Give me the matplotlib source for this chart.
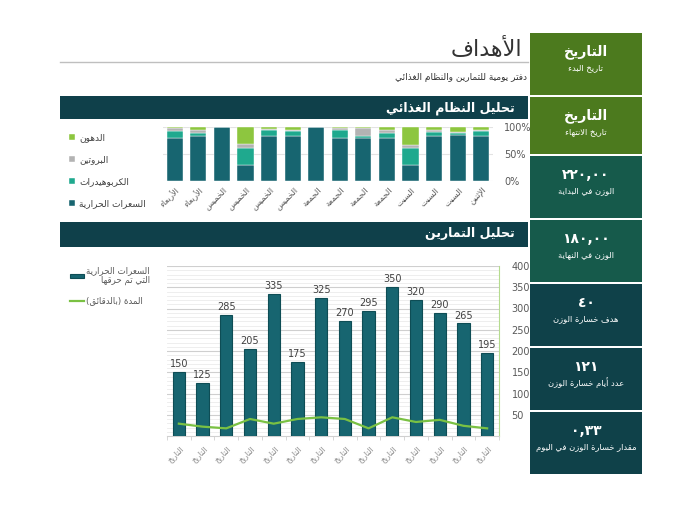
import numpy as np
import matplotlib
matplotlib.use("Agg")
import matplotlib.pyplot as plt
from matplotlib.patches import Rectangle
from matplotlib.ticker import MultipleLocator

plt.rcParams['font.family'] = ['DejaVu Sans']

# ---- data ----
diet_days = ['الأربعاء', 'الأربعاء', 'الخميس', 'الخميس', 'الخميس', 'الخميس',
             'الجمعة', 'الجمعة', 'الجمعة', 'الجمعة', 'السبت', 'السبت', 'السبت', 'الإثنين']
calories_pct = [80, 83, 100, 30, 84, 83, 100, 80, 80, 79, 30, 83, 86, 83]
carbs_pct = [13, 6, 0, 31, 10, 9, 0, 15, 4, 10, 31, 7, 2, 10]
protein_pct = [5, 5, 0, 7, 2, 3, 0, 4, 15, 6, 6, 5, 3, 2]
fat_pct = [2, 6, 0, 32, 4, 5, 0, 1, 1, 5, 33, 5, 9, 5]
diet_series = ['السعرات الحرارية', 'الكربوهيدرات', 'البروتين', 'الدهون']

ex_dates = ['التاريخ'] * 14
burned = [150, 125, 285, 205, 335, 175, 325, 270, 295, 350, 320, 290, 265, 195]
minutes = [29, 22, 18, 40, 29, 40, 44, 40, 18, 44, 33, 38, 24, 18]
ex_series = ['السعرات الحرارية\nالتي تم حرقها', 'المدة (بالدقائق)']

card_values = ['التاريخ', 'التاريخ', '٢٢٠,٠٠', '١٨٠,٠٠', '٤٠', '١٢١', '٠,٣٣']
card_labels = ['تاريخ البدء', 'تاريخ الانتهاء', 'الوزن في البداية', 'الوزن في النهاية',
               'هدف خسارة الوزن', 'عدد أيام خسارة الوزن', 'مقدار خسارة الوزن في اليوم']

title = 'الأهداف'
subtitle = 'دفتر يومية للتمارين والنظام الغذائي'
band1 = 'تحليل النظام الغذائي'
band2 = 'تحليل التمارين'

# ---- simple arabic shaping (no bidi lib available) ----
_tbl = [('ء', 0xFE80, 1), ('آ', 0xFE81, 2), ('أ', 0xFE83, 2), ('ؤ', 0xFE85, 2),
        ('إ', 0xFE87, 2), ('ئ', 0xFE89, 4), ('ا', 0xFE8D, 2), ('ب', 0xFE8F, 4),
        ('ة', 0xFE93, 2), ('ت', 0xFE95, 4), ('ث', 0xFE99, 4), ('ج', 0xFE9D, 4),
        ('ح', 0xFEA1, 4), ('خ', 0xFEA5, 4), ('د', 0xFEA9, 2), ('ذ', 0xFEAB, 2),
        ('ر', 0xFEAD, 2), ('ز', 0xFEAF, 2), ('س', 0xFEB1, 4), ('ش', 0xFEB5, 4),
        ('ص', 0xFEB9, 4), ('ض', 0xFEBD, 4), ('ط', 0xFEC1, 4), ('ظ', 0xFEC5, 4),
        ('ع', 0xFEC9, 4), ('غ', 0xFECD, 4), ('ف', 0xFED1, 4), ('ق', 0xFED5, 4),
        ('ك', 0xFED9, 4), ('ل', 0xFEDD, 4), ('م', 0xFEE1, 4), ('ن', 0xFEE5, 4),
        ('ه', 0xFEE9, 4), ('و', 0xFEED, 2), ('ى', 0xFEEF, 2), ('ي', 0xFEF1, 4)]
JOIN = {c: (b, n) for c, b, n in _tbl}
LAM_ALEF = {'آ': 0xFEF5, 'أ': 0xFEF7, 'إ': 0xFEF9, 'ا': 0xFEFB}


def ar_line(text):
    if not any(c in JOIN for c in text):
        return text  # numbers stay left-to-right
    toks = []
    i = 0
    while i < len(text):
        c = text[i]
        if c == 'ل' and i + 1 < len(text) and text[i + 1] in LAM_ALEF:
            toks.append((LAM_ALEF[text[i + 1]], 2))
            i += 2
            continue
        toks.append(JOIN.get(c, c))
        i += 1
    out = []
    for k, t in enumerate(toks):
        if isinstance(t, str):
            out.append(t)
            continue
        base, n = t
        prev = toks[k - 1] if k > 0 else None
        nxt = toks[k + 1] if k + 1 < len(toks) else None
        jp = isinstance(prev, tuple) and prev[1] == 4
        jn = n == 4 and isinstance(nxt, tuple)
        if n == 1:
            g = base
        elif jp and jn:
            g = base + 3
        elif jp:
            g = base + 1
        elif jn:
            g = base + 2
        else:
            g = base
        out.append(chr(g))
    mirror = {'(': ')', ')': '('}
    return ''.join(mirror.get(c, c) for c in reversed(out))


def ar(text):
    return '\n'.join(ar_line(s) for s in text.split('\n'))


# ---- layout in pixels ----
W, H = 675, 520
fig = plt.figure(figsize=(W / 100, H / 100), dpi=100)
fig.patch.set_facecolor('white')


def box(x0, y0, x1, y1):
    return [x0 / W, 1 - y1 / H, (x1 - x0) / W, (y1 - y0) / H]


def rect(x0, y0, x1, y1, color):
    fig.add_artist(Rectangle((x0 / W, 1 - y1 / H), (x1 - x0) / W, (y1 - y0) / H,
                             transform=fig.transFigure, facecolor=color,
                             edgecolor='none', zorder=0))


def ftext(x, y, s, **kw):
    fig.text(x / W, 1 - y / H, s, **kw)


DARK = '#0f404a'
BAR = '#176570'
CARB = '#1fa98e'
PROT = '#b3b3b3'
FAT = '#8dc63f'

# header
ftext(522, 49, ar(title), fontsize=16, color='#333333', ha='right', va='center')
fig.add_artist(plt.Line2D([60 / W, 528 / W], [1 - 62 / H, 1 - 62 / H],
                          transform=fig.transFigure, color='#bfbfbf', lw=1))
ftext(527, 78, ar(subtitle), fontsize=6.5, color='#333333', ha='right', va='center')

rect(60, 96, 528, 119, DARK)
ftext(515, 108, ar(band1), fontsize=9, color='white', ha='right', va='center',
      fontweight='bold')
rect(60, 222, 528, 247, DARK)
ftext(515, 234, ar(band2), fontsize=9, color='white', ha='right', va='center',
      fontweight='bold')

# ---- diet stacked chart ----
ax1 = fig.add_axes(box(163, 127, 493, 181))
x = np.arange(len(diet_days))
bottom = np.zeros(len(x))
handles = []
for vals, col, name in zip([calories_pct, carbs_pct, protein_pct, fat_pct],
                           [BAR, CARB, PROT, FAT], diet_series):
    v = np.array(vals, dtype=float)
    b = ax1.bar(x, v, 0.68, bottom=bottom, color=col, edgecolor='white',
                linewidth=0.3, label=ar(name), zorder=3)
    handles.append(b)
    bottom += v
ax1.set_xlim(-0.5, len(x) - 0.5)
ax1.set_ylim(0, 100)
ax1.set_yticks([0, 50, 100])
ax1.set_yticklabels(['0%', '50%', '100%'])
ax1.yaxis.tick_right()
ax1.tick_params(axis='y', length=0, pad=8, labelsize=7, labelcolor='#595959')
ax1.set_xticks(x)
ax1.set_xticklabels([ar(d) for d in diet_days], rotation=45, ha='right',
                    rotation_mode='anchor', fontsize=6, color='#595959')
ax1.tick_params(axis='x', length=0, pad=3)
ax1.grid(axis='y', color='#e3e3e3', lw=0.8, zorder=0)
for s in ax1.spines.values():
    s.set_visible(False)

fig.legend(handles[::-1], [h.get_label() for h in handles[::-1]],
           loc='upper left', bbox_to_anchor=(61 / W, 1 - 125 / H),
           frameon=False, fontsize=6.5, handlelength=0.7, handleheight=0.7,
           handletextpad=0.4, labelspacing=1.45, labelcolor='#404040')

# ---- exercise chart ----
ax2 = fig.add_axes(box(167, 266, 499, 436))
xe = np.arange(len(ex_dates))
bars = ax2.bar(xe, burned, 0.52, color=BAR, edgecolor='#0e4d55', linewidth=0.8,
               zorder=3, label=ar(ex_series[0]))
ln, = ax2.plot(xe, minutes, color='#7ac143', lw=1.6, zorder=4, label=ar(ex_series[1]))
ax2.bar_label(bars, padding=2, fontsize=7, color='#404040')
ax2.set_xlim(-0.5, len(xe) - 0.5)
ax2.set_ylim(0, 400)
ax2.yaxis.tick_right()
ax2.set_yticks(np.arange(50, 401, 50))
ax2.yaxis.set_minor_locator(MultipleLocator(10))
ax2.tick_params(axis='y', which='both', length=0, pad=9, labelsize=7,
                labelcolor='#595959')
ax2.grid(axis='y', which='major', color='#cfcfcf', lw=0.8, zorder=0)
ax2.grid(axis='y', which='minor', color='#ebebeb', lw=0.6, zorder=0)
ax2.set_xticks(xe)
ax2.set_xticklabels([ar(d) for d in ex_dates], rotation=45, ha='right',
                    rotation_mode='anchor', fontsize=5.5, color='#8c8c8c')
ax2.set_xticks(np.arange(-0.5, len(xe), 1), minor=True)
ax2.tick_params(axis='x', which='major', length=0, pad=6)
ax2.tick_params(axis='x', which='minor', length=3, color='#d0d0d0')
for s in ['top', 'left']:
    ax2.spines[s].set_visible(False)
ax2.spines['right'].set_color('#b5db8e')
ax2.spines['bottom'].set_color('#d0d0d0')

leg = fig.legend([bars, ln], [bars.get_label(), ln.get_label()],
                 loc='upper left', bbox_to_anchor=(62 / W, 1 - 258 / H),
                 frameon=False, fontsize=6.2, handlelength=1.6, handleheight=0.3,
                 handletextpad=0.3, labelspacing=1.3, labelcolor='#595959')
for t in leg.get_texts():
    t.set_multialignment('right')

# ---- right side cards ----
card_rows = [(33, 95), (97, 154), (156, 218), (220, 282), (284, 346), (348, 410), (412, 474)]
card_cols = ['#4c7a1e', '#4c7a1e', '#165a4b', '#165a4b', '#0f4149', '#0f4149', '#0f4149']
for (y0, y1), col, val, lab in zip(card_rows, card_cols, card_values, card_labels):
    rect(530, y0, 642, y1, col)
    ftext(586, y0 + 19, ar(val), fontsize=10, color='white', ha='center',
          va='center', fontweight='bold')
    ftext(586, y0 + 35, ar(lab), fontsize=6, color='white', ha='center', va='center')

fig.savefig('out.png', dpi=100, facecolor='white')
